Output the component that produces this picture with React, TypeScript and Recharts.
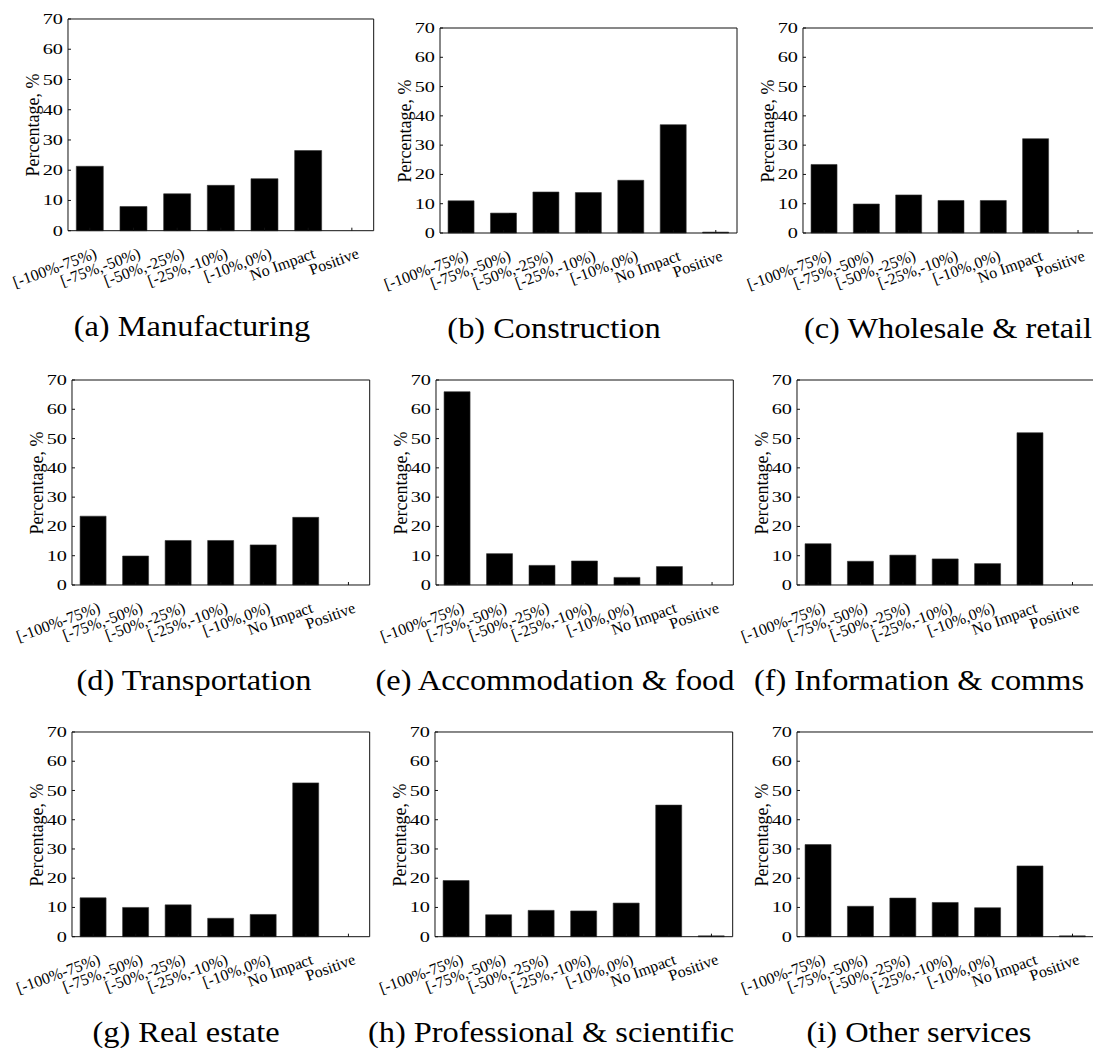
import React from "react";
import { BarChart, Bar, XAxis, YAxis } from "recharts";

// categories shared by all nine panels
const categories = [
  "[-100%-75%)",
  "[-75%,-50%)",
  "[-50%,-25%)",
  "[-25%,-10%)",
  "[-10%,0%)",
  "No Impact",
  "Positive",
];
const yTicks = [0, 10, 20, 30, 40, 50, 60, 70];

// share of firms per revenue-impact bucket, %
const manufacturing = [21.3, 8.0, 12.2, 15.0, 17.2, 26.5, 0];
const construction = [11.0, 6.8, 14.0, 13.8, 18.0, 37.0, 0.3];
const wholesaleRetail = [23.4, 9.9, 13.0, 11.1, 11.1, 32.2, 0];
const transportation = [23.5, 9.9, 15.2, 15.2, 13.7, 23.1, 0];
const accommodationFood = [66.0, 10.7, 6.7, 8.2, 2.6, 6.3, 0];
const informationComms = [14.1, 8.1, 10.2, 8.9, 7.3, 52.0, 0];
const realEstate = [13.3, 10.0, 10.9, 6.3, 7.6, 52.6, 0];
const professionalScientific = [19.2, 7.5, 9.0, 8.8, 11.5, 45.0, 0.3];
const otherServices = [31.5, 10.4, 13.2, 11.7, 9.9, 24.2, 0.3];

const titles = [
  "(a) Manufacturing",
  "(b) Construction",
  "(c) Wholesale & retail",
  "(d) Transportation",
  "(e) Accommodation & food",
  "(f) Information & comms",
  "(g) Real estate",
  "(h) Professional & scientific",
  "(i) Other services",
];
const series = [
  manufacturing,
  construction,
  wholesaleRetail,
  transportation,
  accommodationFood,
  informationComms,
  realEstate,
  professionalScientific,
  otherServices,
];

// plot-box placement of each panel in the page (left, top, right, bottom) and caption centre
const layout = [
  { l: 68.3, t: 19.3, r: 374, b: 231, cx: 192 },
  { l: 440, t: 28.3, r: 737, b: 233.3, cx: 554 },
  { l: 803.3, t: 28.3, r: 1099.5, b: 233.3, cx: 948 },
  { l: 72.3, t: 380, r: 370, b: 585, cx: 194 },
  { l: 435.7, t: 380, r: 733, b: 585, cx: 555 },
  { l: 797.3, t: 380, r: 1094, b: 585, cx: 919 },
  { l: 72.3, t: 732.3, r: 370, b: 937, cx: 186 },
  { l: 435.3, t: 732.3, r: 733, b: 937, cx: 551 },
  { l: 797.3, t: 732.3, r: 1094, b: 937, cx: 919 },
];

const FONT = "Liberation Serif, Times New Roman, serif";

function XTick(props: any) {
  const { x, y, payload } = props;
  return (
    <g transform={`translate(${x + 8},${y + 28})`}>
      <text transform="rotate(-20)" textAnchor="end" fontFamily={FONT} fontSize={16} fill="#000">
        {payload.value}
      </text>
    </g>
  );
}

function YTick(props: any) {
  const { x, y, payload } = props;
  return (
    <g transform={`translate(${x},${y})`}>
      <text
        transform="scale(1.45,1)"
        textAnchor="end"
        dy="0.36em"
        fontFamily={FONT}
        fontSize={14}
        fill="#000"
      >
        {payload.value}
      </text>
    </g>
  );
}

function Panel({ values, title, box }: { values: number[]; title: string; box: any }) {
  const L = 60;
  const T = 14;
  const R = 6;
  const B = 80;
  const w = box.r - box.l;
  const h = box.b - box.t;
  const rows = categories.map((cat, i) => ({ cat, v: values[i] }));
  const axisStroke = { stroke: "#111", strokeWidth: 1 };

  // top and right axes only carry the box edge and inward ticks, like a matlab "box on"
  return (
    <>
      <div style={{ position: "absolute", left: box.l - L, top: box.t - T }}>
        <BarChart
          width={w + L + R}
          height={h + T + B}
          data={rows}
          margin={{ top: T - 2, right: R - 2, left: 0, bottom: 0 }}
          barCategoryGap="19%"
        >
          <XAxis
            dataKey="cat"
            height={B}
            interval={0}
            tickSize={-3}
            axisLine={axisStroke}
            tickLine={axisStroke}
            tick={<XTick />}
          />
          <XAxis
            xAxisId="top"
            orientation="top"
            dataKey="cat"
            height={2}
            interval={0}
            tickSize={-3}
            axisLine={axisStroke}
            tickLine={axisStroke}
            tick={false}
          />
          <YAxis
            domain={[0, 70]}
            ticks={yTicks}
            width={L}
            interval={0}
            tickSize={-3}
            tickMargin={8}
            axisLine={axisStroke}
            tickLine={axisStroke}
            tick={<YTick />}
          />
          <YAxis
            yAxisId="right"
            orientation="right"
            domain={[0, 70]}
            ticks={yTicks}
            width={2}
            interval={0}
            tickSize={-3}
            axisLine={axisStroke}
            tickLine={axisStroke}
            tick={false}
          />
          <Bar dataKey="v" fill="#000" stroke="#333" strokeWidth={0.6} isAnimationActive={false} />
        </BarChart>
      </div>
      <div
        style={{
          position: "absolute",
          left: box.l - 35 - 100,
          top: (box.t + box.b) / 2 - 10,
          width: 200,
          height: 20,
          lineHeight: "20px",
          textAlign: "center",
          fontFamily: FONT,
          fontSize: 18,
          transform: "rotate(-90deg)",
          whiteSpace: "nowrap",
        }}
      >
        Percentage, %
      </div>
      <div
        style={{
          position: "absolute",
          left: box.cx - 250,
          top: box.b + 80,
          width: 500,
          textAlign: "center",
          fontFamily: FONT,
          fontSize: 30,
          lineHeight: "30px",
          transform: "scaleX(1.08)",
          whiteSpace: "nowrap",
        }}
      >
        {title}
      </div>
    </>
  );
}

export default function App() {
  return (
    <div
      style={{
        position: "absolute",
        left: 0,
        top: 0,
        width: 1093,
        height: 1048,
        overflow: "hidden",
        background: "#fff",
        color: "#000",
      }}
    >
      {series.map((values, i) => (
        <Panel key={titles[i]} values={values} title={titles[i]} box={layout[i]} />
      ))}
    </div>
  );
}
